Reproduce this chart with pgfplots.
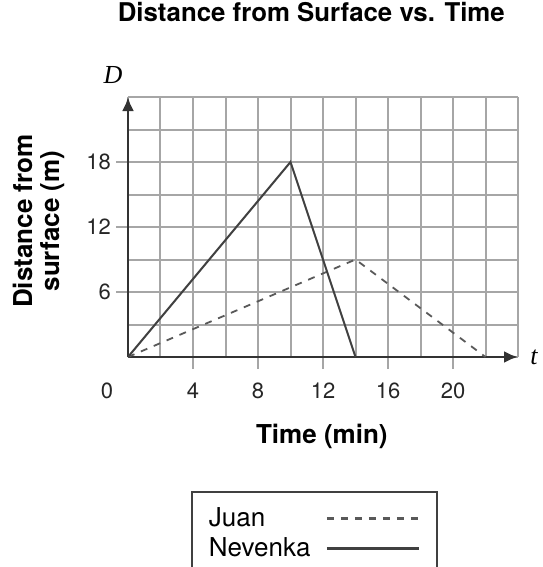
\documentclass[border=0pt]{standalone}
\usepackage{fontspec}
\setmainfont{TeX Gyre Heros}
\newfontfamily\timesfont{Liberation Serif}
\usepackage{pgfplots}
\pgfplotsset{compat=1.18}
\usetikzlibrary{arrows.meta}

\begin{document}
\begin{tikzpicture}
% page = 542 x 567 px at 0.5pt per px, axis origin at (0,0)
\useasboundingbox (-64pt,-105pt) rectangle (207pt,178.5pt);
\begin{axis}[
  at={(0pt,0pt)}, anchor=origin,
  width=195pt, height=130pt, scale only axis,
  xmin=0, xmax=24, ymin=0, ymax=24,
  axis lines=left,
  axis line style={black!80, line width=1.4pt, -{Latex[length=7pt,width=6pt]}},
  xtick={4,8,...,20}, ytick={6,12,18},
  minor xtick={0,2,...,24}, minor ytick={0,3,...,24},
  grid=both,
  major grid style={black!35, line width=1pt},
  minor grid style={black!35, line width=1pt},
  tick align=outside, major tick length=6pt, minor tick length=0pt,
  every tick/.style={black!35, line width=1pt},
  tick label style={font=\fontsize{11}{13}\selectfont, black!85},
  /pgf/number format/assume math mode=true,
  xticklabel style={yshift=-3.5pt},
  yticklabel style={xshift=1pt},
  title={Distance from Surface vs. Time},
  title style={at={(0.47,1.246)}, anchor=base, font=\bfseries\fontsize{12.9}{15}\selectfont},
  xlabel={Time (min)},
  xlabel style={at={(0.497,-0.331)}, anchor=base, font=\bfseries\fontsize{13}{15}\selectfont},
  ylabel={Distance from\\surface (m)},
  ylabel style={at={(-0.228,0.523)}, anchor=center, rotate=0, align=center,
    font=\bfseries\fontsize{13}{13.5}\selectfont},
  legend plot pos=right,
  legend cell align=left,
  legend image code/.code={\draw[#1, line width=1.2pt] (0pt,0pt) -- (46pt,0pt);},
  legend style={at={(0.478,-0.515)}, anchor=north, draw=black!75, line width=0.8pt,
    font=\fontsize{13}{15}\selectfont, inner xsep=8.5pt, inner ysep=6pt,
    nodes={inner xsep=0pt, inner ysep=2pt},
    row sep=0pt, column sep=7.5pt},
]
\addplot[black!65, line width=0.9pt, dash pattern=on 3.5pt off 3.5pt]
  coordinates {(0,0) (14,9) (22,0)};
\addlegendentry{Juan}
\addplot[black!75, line width=1pt]
  coordinates {(0,0) (10,18) (14,0)};
\addlegendentry{Nevenka}
\end{axis}
\node[font=\timesfont\itshape\fontsize{13}{15}\selectfont] at (-7.5pt,141pt) {D};
\node[font=\timesfont\itshape\fontsize{13}{15}\selectfont, anchor=west, inner sep=0pt] at (201pt,0pt) {t};
\node[font=\fontsize{11}{13}\selectfont, black!85] at (-10.5pt,-17pt) {0};
\end{tikzpicture}
\end{document}
